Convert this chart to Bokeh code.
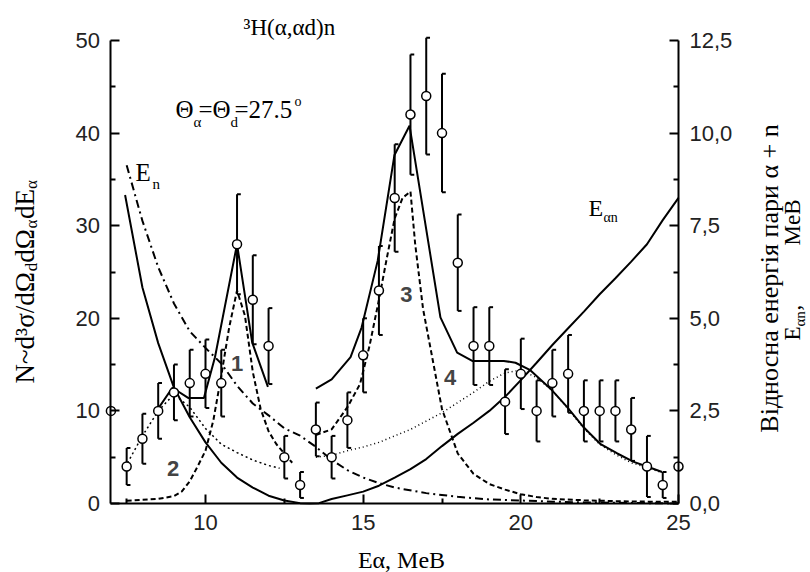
import numpy as np
from bokeh.plotting import figure
from bokeh.models import (Range1d, LinearAxis, FixedTicker, CustomJSTickFormatter,
                          Label)
from bokeh.embed import file_html
from bokeh.resources import INLINE

# ---------------- data ----------------
E_alpha = [7.0, 7.5, 8.0, 8.5, 9.0, 9.5, 10.0, 10.5, 11.0, 11.5, 12.0, 12.5, 13.0,
           13.5, 14.0, 14.5, 15.0, 15.5, 16.0, 16.5, 17.0, 17.5, 18.0, 18.5, 19.0,
           19.5, 20.0, 20.5, 21.0, 21.5, 22.0, 22.5, 23.0, 23.5, 24.0, 24.5, 25.0]
counts = [10, 4, 7, 10, 12, 13, 14, 13, 28, 22, 17, 5, 2,
          8, 5, 9, 16, 23, 33, 42, 44, 40, 26, 17, 17,
          11, 14, 10, 13, 14, 10, 10, 10, 8, 4, 2, 4]
errors = [0, 2, 2.7, 3, 3, 3.6, 3.7, 3.6, 5.4, 4.8, 4.1, 2.3, 1.4,
          2.9, 2.3, 3, 4, 4.8, 5.8, 6.5, 6.3, 6.4, 5.2, 4.2, 4.2,
          3.5, 3.8, 3.3, 3.6, 4.2, 3.3, 3.3, 3.3, 3.4, 3.3, 1.4, 0]

# total fit, first and second part (solid)
sum1_x = [8.45, 8.95, 9.45, 9.95, 10.3, 11.0, 11.48, 11.98]
sum1_y = [10.0, 12.5, 11.4, 11.4, 15.8, 28.0, 17.4, 12.6]
sum2_x = [13.5, 14.0, 14.6, 14.95, 15.46, 15.99, 16.47, 17.45, 17.98, 18.46, 19.46,
          19.83, 20.3, 20.94, 21.47, 22.0, 22.53, 23.06, 23.58, 24.0, 24.48]
sum2_y = [12.4, 13.4, 15.8, 19.0, 26.2, 37.6, 40.8, 20.1, 16.3, 15.4, 15.4,
          15.2, 14.4, 12.4, 10.4, 8.2, 6.4, 5.4, 4.5, 4.0, 3.4]

# component 1 (dashed)
c1_x = [7.5, 8.0, 8.5, 9.0, 9.25, 9.5, 9.75, 10.0, 10.25, 10.5, 10.75, 11.0, 11.25,
        11.5, 11.75, 12.0, 12.25, 12.5, 12.75]
c1_y = [0.3, 0.4, 0.5, 0.8, 1.3, 2.4, 4.0, 5.7, 9.0, 13.8, 19.0, 23.0, 20.3,
        14.2, 10.2, 7.8, 6.4, 5.4, 4.4]
# component 2 (dotted)
c2_x = [7.45, 8.0, 8.5, 9.0, 9.5, 10.0, 10.5, 11.0, 11.5, 12.0, 12.35]
c2_y = [3.9, 7.3, 10.0, 11.8, 10.4, 8.1, 6.4, 5.5, 4.7, 4.1, 3.8]
# component 3 (dashed)
c3_x = [13.5, 14.0, 14.5, 14.9, 15.2, 15.5, 15.75, 16.0, 16.25, 16.5, 16.65, 16.9,
        17.2, 17.5, 18.0, 18.5, 19.0, 19.5, 20.0, 20.5, 21.0, 22.0, 23.0, 24.0, 25.0]
c3_y = [7.4, 8.0, 10.4, 12.9, 17.0, 22.0, 26.5, 30.8, 33.0, 33.7, 28.0, 21.0,
        15.6, 10.2, 5.4, 3.2, 2.1, 1.5, 1.0, 0.7, 0.5, 0.35, 0.25, 0.2, 0.2]
# component 4 (dotted)
c4_x = [13.5, 14.0, 14.5, 15.0, 15.5, 16.0, 16.5, 17.0, 17.5, 18.0, 18.5, 19.0,
        19.5, 20.0, 20.5, 21.0, 21.5, 22.0, 22.5, 23.0, 23.5, 24.0, 24.5]
c4_y = [5.0, 5.2, 5.7, 6.1, 6.6, 7.3, 8.0, 8.9, 9.8, 10.9, 12.0, 13.2,
        14.1, 14.4, 13.6, 12.2, 10.2, 8.1, 6.4, 5.3, 4.4, 3.9, 3.3]

# neutron energy E_n, MeV (dash-dot, right axis)
En_x = [7.5, 8.0, 8.5, 9.0, 9.5, 10.0, 10.5, 11.0, 11.5, 12.0, 12.5, 13.0, 13.5,
        14.0, 14.5, 15.0, 15.5, 16.0, 17.0, 18.0, 19.0, 20.0, 21.0, 22.0, 23.0,
        24.0, 25.0]
En_mev = [9.13, 7.63, 6.38, 5.40, 4.65, 4.20, 3.78, 3.18, 2.70, 2.38, 2.03, 1.83, 1.53,
          1.18, 0.90, 0.70, 0.55, 0.43, 0.28, 0.18, 0.11, 0.08, 0.05, 0.03, 0.02,
          0.01, 0.0]
# relative alpha+n energy E_an, MeV (solid, right axis)
Ean_x = [7.45, 8.0, 8.5, 9.0, 9.5, 10.0, 10.5, 11.0, 11.5, 12.0, 12.5, 13.0, 13.3,
         13.6, 14.0, 14.5, 15.0, 15.5, 16.0, 16.5, 17.0, 17.5, 18.0, 18.5, 19.0,
         19.5, 20.0, 20.5, 21.0, 21.5, 22.0, 22.5, 23.0, 23.5, 24.0, 24.5, 25.0]
Ean_mev = [8.33, 5.83, 4.33, 3.13, 2.33, 1.65, 1.10, 0.70, 0.43, 0.21, 0.08, 0.01, 0.0,
           0.01, 0.12, 0.22, 0.32, 0.48, 0.70, 0.93, 1.20, 1.55, 1.88, 2.18, 2.50,
           2.88, 3.33, 3.80, 4.28, 4.73, 5.18, 5.65, 6.08, 6.53, 7.00, 7.65, 8.25]

x_major = [10, 15, 20, 25]
x_minor = [7.5, 12.5, 17.5, 22.5]
yl_major = [0, 10, 20, 30, 40, 50]
yl_minor = [5, 15, 25, 35, 45]
yr_major = [0, 2.5, 5.0, 7.5, 10.0, 12.5]
yr_minor = [1.25, 3.75, 6.25, 8.75, 11.25]

# ---------------- layout constants (pixels) ----------------
W, H = 810, 572
X0, X1 = 7.0, 25.0          # data extent of the axes
Y0, Y1 = 0.0, 50.0
PX_X0, PX_X1 = 110.4, 678.0  # pixel position of X0, X1
PX_Y0, PX_Y1 = 503.0, 40.0   # pixel position of Y0, Y1 (from top)
RATIO = 4.0                  # left units per MeV on the right axis

sx = (PX_X1 - PX_X0) / (X1 - X0)
sy = (PX_Y0 - PX_Y1) / (Y1 - Y0)
xr = Range1d(X0 - PX_X0 / sx, X1 + (W - PX_X1) / sx)
yr = Range1d(Y0 - (H - PX_Y0) / sy, Y1 + PX_Y1 / sy)

SERIF = "Liberation Serif"
SANS = "Liberation Sans"

p = figure(width=W, height=H, x_range=xr, y_range=yr,
           output_backend="svg", toolbar_location=None,
           x_axis_location=None, y_axis_location=None,
           min_border=0, min_border_left=0, min_border_right=0,
           min_border_top=0, min_border_bottom=0)
p.extra_y_ranges = {"mev": Range1d(yr.start / RATIO, yr.end / RATIO)}
p.grid.visible = False
p.outline_line_color = None
p.background_fill_color = "white"
p.border_fill_color = "white"

def style_axis(ax, major, minor):
    ax.ticker = FixedTicker(ticks=major, minor_ticks=minor)
    ax.axis_line_width = 2
    ax.axis_line_color = "black"
    ax.major_tick_in = 9
    ax.major_tick_out = 0
    ax.minor_tick_in = 5
    ax.minor_tick_out = 0
    ax.major_tick_line_width = 2
    ax.minor_tick_line_width = 2
    ax.major_tick_line_color = "black"
    ax.minor_tick_line_color = "black"
    ax.major_label_text_font = SANS
    ax.major_label_text_font_size = "22px"
    ax.major_label_text_color = "#222222"
    ax.major_label_standoff = 11

xaxis = LinearAxis(fixed_location=Y0, bounds=(X0, X1))
laxis = LinearAxis(fixed_location=X0, bounds=(Y0, Y1))
raxis = LinearAxis(y_range_name="mev", fixed_location=X1, bounds=(Y0 / RATIO, Y1 / RATIO))
style_axis(xaxis, x_major, x_minor)
style_axis(laxis, yl_major, yl_minor)
style_axis(raxis, yr_major, yr_minor)
raxis.formatter = CustomJSTickFormatter(code="return tick.toFixed(1).replace('.', ',');")
p.add_layout(xaxis, "below")
p.add_layout(laxis, "left")
p.add_layout(raxis, "right")

# curves
p.line(sum1_x, sum1_y, line_color="black", line_width=2)
p.line(sum2_x, sum2_y, line_color="black", line_width=2)
p.line(c1_x, c1_y, line_color="black", line_width=2, line_dash="5 3")
p.line(c3_x, c3_y, line_color="black", line_width=2, line_dash="5 3")
p.line(c2_x, c2_y, line_color="black", line_width=1.5, line_dash="2 3")
p.line(c4_x, c4_y, line_color="black", line_width=1.5, line_dash="1 3")
p.line(En_x, En_mev, y_range_name="mev", line_color="black", line_width=2,
       line_dash="8 4 2 4")
p.line(Ean_x, Ean_mev, y_range_name="mev", line_color="black", line_width=2)

# error bars with small caps
xs = np.array(E_alpha, dtype=float)
ys = np.array(counts, dtype=float)
es = np.array(errors, dtype=float)
has = es > 0
cap = 0.12
p.segment(x0=xs[has], y0=(ys - es)[has], x1=xs[has], y1=(ys + es)[has],
          line_color="black", line_width=2)
p.segment(x0=xs[has], y0=(ys + es)[has], x1=xs[has] + cap, y1=(ys + es)[has],
          line_color="black", line_width=2)
p.segment(x0=xs[has], y0=(ys - es)[has], x1=xs[has] + cap, y1=(ys - es)[has],
          line_color="black", line_width=2)
p.scatter(xs, ys, marker="circle", size=9, fill_color="white", line_color="black",
          line_width=1.5)

# ---------------- texts ----------------
# (px, py) is the start (or centre) of the text's baseline in canvas pixels from the
# top-left; texts are anchored at their vertical middle (~0.33 em above the baseline).
MID = 0.33

def lab(px, py, text, size, font=SERIF, style="normal", rot=False,
        align="left"):
    if rot:
        ax, ay, angle = px - MID * size, py, np.pi / 2
    else:
        ax, ay, angle = px, py - MID * size, 0.0
    p.add_layout(Label(x=ax, y=H - ay, x_units="screen", y_units="screen",
                       text=text, text_font=font, text_font_size=f"{size}px",
                       text_font_style=style, angle=angle, text_align=align,
                       text_baseline="middle", text_color="black"))

# reaction
lab(243, 35, "³H(α,αd)n", 23)
# angles
lab(175, 117, "Θ", 25)
lab(193, 126, "α", 15)
lab(198, 117, "=Θ", 25)
lab(230, 126, "d", 15)
lab(234, 117, "=27.5", 25)
lab(294, 106, "o", 14)
# E_n, E_an
lab(135, 180, "E", 25)
lab(152, 188, "n", 15)
lab(588, 215, "E", 24)
lab(603, 222, "αn", 14)
# component numbers (centre positions)
for t, (px, py) in zip(["1", "2", "3", "4"],
                       [(236.7, 363), (172.5, 467.5), (405.8, 294), (449.7, 376.7)]):
    p.add_layout(Label(x=px, y=H - py, x_units="screen", y_units="screen", text=t,
                       text_font=SANS, text_font_size="22px", text_font_style="bold",
                       text_align="center", text_baseline="middle"))

# bottom axis title
lab(401, 567, "Eα, MeB", 24, align="center")

# left axis title, rotated, built from pieces (bottom to top)
y0 = 383
pieces = [("N~d³σ/dΩ", 27, 33, 112.3), ("d", 17, 37, 8.5), ("dΩ", 27, 33, 34.2),
          ("α", 17, 37, 9.4), ("dE", 27, 33, 30.0), ("α", 17, 37, 9.4)]
for text, size, bx, adv in pieces:
    lab(bx, y0, text, size, rot=True)
    y0 -= adv

# right axis title (two lines)
lab(778, 278, "Відносна енергія пари α + n", 26, rot=True, align="center")
for text, size, bx, start in [("E", 23, 800, 340), ("αn", 15, 804, 326),
                              (",", 23, 800, 310), ("MeB", 23, 800, 245)]:
    lab(bx, start, text, size, rot=True)

open("out.html", "w").write(file_html(p, INLINE))
